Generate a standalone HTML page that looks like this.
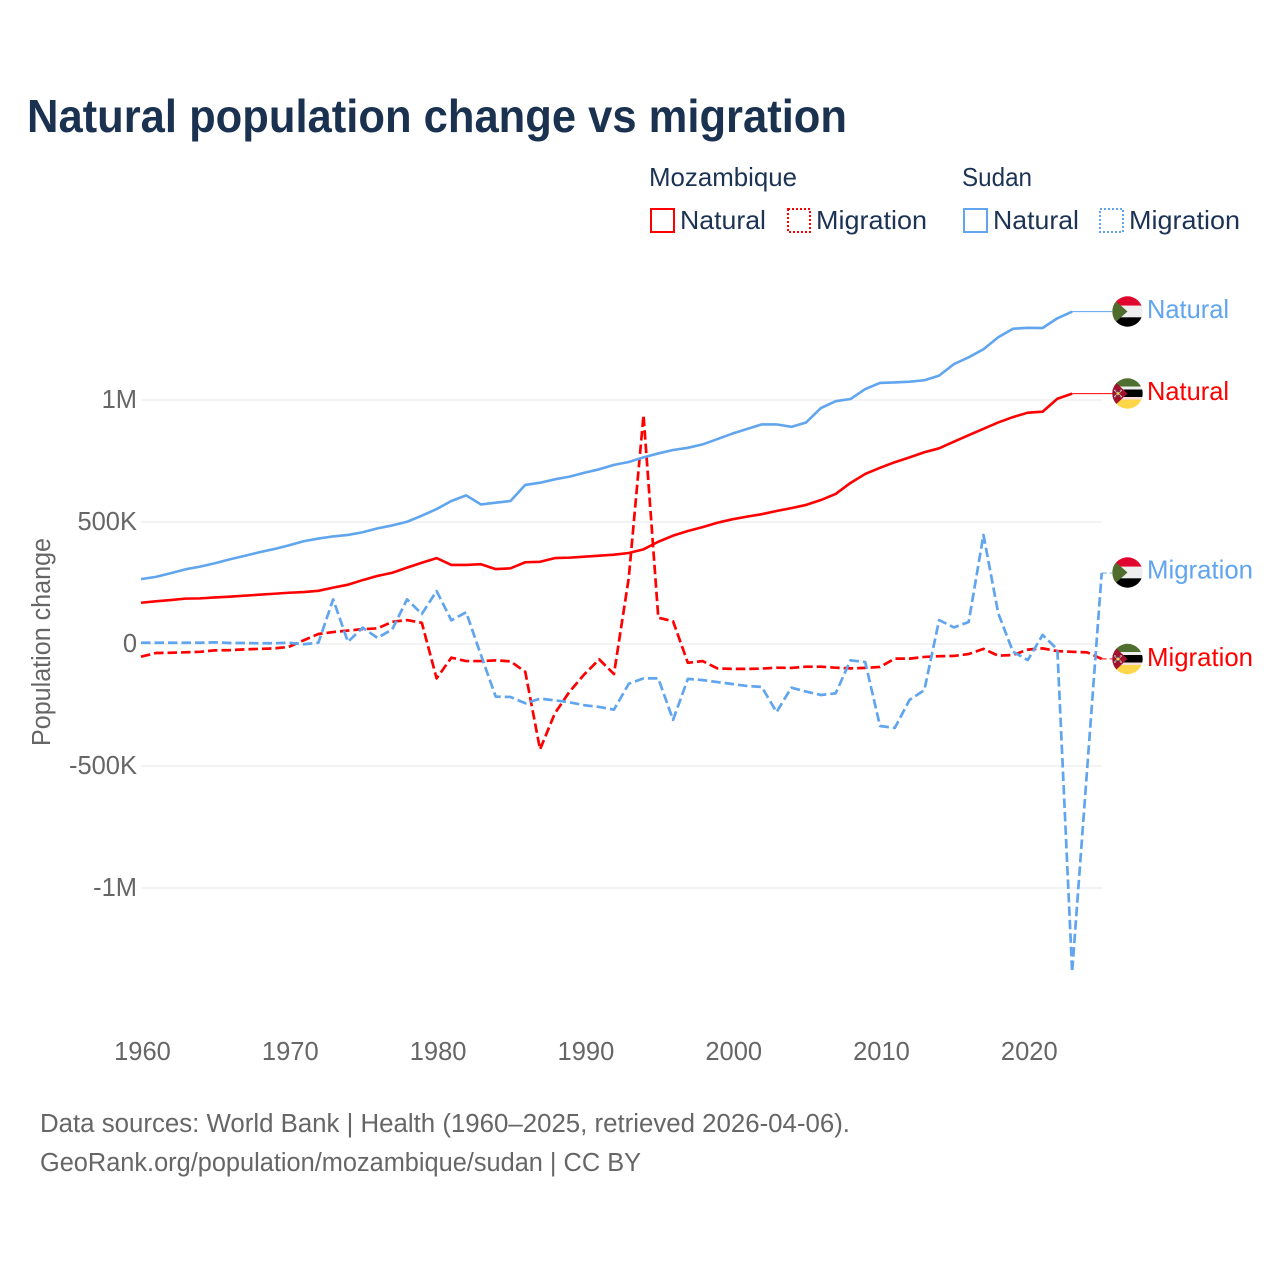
<!DOCTYPE html>
<html lang="en">
<head>
<meta charset="utf-8">
<title>Natural population change vs migration</title>
<style>
html,body{margin:0;padding:0;background:#fff;}
svg{display:block;font-family:"Liberation Sans",sans-serif;}
</style>
</head>
<body>
<svg id="chart" width="1280" height="1280" viewBox="0 0 1280 1280" xmlns="http://www.w3.org/2000/svg">
  <defs>
    <clipPath id="flag-clip"><circle cx="0" cy="0" r="15.2"/></clipPath>
  </defs>
  <rect x="0" y="0" width="1280" height="1280" fill="#ffffff"/>
  <text x="27" y="132" font-size="46" font-weight="700" fill="#1a3250" textLength="820" lengthAdjust="spacingAndGlyphs">Natural population change vs migration</text>

  <g font-size="26" fill="#1d3354">
    <text x="649" y="186" textLength="148" lengthAdjust="spacingAndGlyphs">Mozambique</text>
    <text x="962" y="186" textLength="70" lengthAdjust="spacingAndGlyphs">Sudan</text>
    <rect x="651" y="209" width="23" height="23" fill="none" stroke="#ff0000" stroke-width="2"/>
    <text x="680" y="229" textLength="86" lengthAdjust="spacingAndGlyphs">Natural</text>
    <rect x="788" y="209" width="22" height="23" fill="none" stroke="#ff0000" stroke-width="2" stroke-dasharray="2 2"/>
    <text x="816" y="229" textLength="111" lengthAdjust="spacingAndGlyphs">Migration</text>
    <rect x="964" y="209" width="23" height="23" fill="none" stroke="#60a5ee" stroke-width="2"/>
    <text x="993" y="229" textLength="86" lengthAdjust="spacingAndGlyphs">Natural</text>
    <rect x="1100" y="209" width="23" height="23" fill="none" stroke="#60a5ee" stroke-width="2" stroke-dasharray="2 2"/>
    <text x="1129" y="229" textLength="111" lengthAdjust="spacingAndGlyphs">Migration</text>
  </g>

  <g id="grid"></g>
  <g id="y-ticks" font-size="25.5" fill="#666666" text-anchor="end"></g>
  <g id="x-ticks" font-size="25.5" fill="#666666" text-anchor="middle"></g>
  <text transform="translate(50,642) rotate(-90)" font-size="25.5" fill="#666666" text-anchor="middle" textLength="208" lengthAdjust="spacingAndGlyphs">Population change</text>

  <g id="series"></g>

  <g transform="translate(1127.5,311.5)">
    <g clip-path="url(#flag-clip)">
      <rect x="-16" y="-16" width="32" height="10.2" fill="#e0062d"/><rect x="-16" y="-5.8" width="32" height="11.6" fill="#eeeeee"/><rect x="-16" y="5.8" width="32" height="10.2" fill="#000000"/><path d="M-18,-16 L0,0 L-18,16 Z" fill="#4f6d2d"/>
    </g>
  </g>
  <g transform="translate(1127.5,393.5)">
    <g clip-path="url(#flag-clip)">
      <rect x="-16" y="-16" width="32" height="9" fill="#4f6f30"/><rect x="-16" y="-7" width="32" height="3" fill="#eeeeee"/><rect x="-16" y="-4" width="32" height="7.5" fill="#000000"/><rect x="-16" y="3.5" width="32" height="2.5" fill="#f6dcdc"/><rect x="-16" y="6" width="32" height="10" fill="#fdd64a"/><path d="M-17,-16 L0,0 L-17,16 Z" fill="#a0122e"/><path d="M-13,-3.5 L-6,3.5 M-6,-3.5 L-13,3.5" stroke="#eeeeee" stroke-width="1.4"/><path d="M-12,-3 L-7,3 M-7,-3 L-12,3" stroke="#222222" stroke-width="0.6"/><circle cx="-9.5" cy="0" r="1.4" fill="#f5d24a"/>
    </g>
  </g>
  <g transform="translate(1127.5,572.5)">
    <g clip-path="url(#flag-clip)">
      <rect x="-16" y="-16" width="32" height="10.2" fill="#e0062d"/><rect x="-16" y="-5.8" width="32" height="11.6" fill="#eeeeee"/><rect x="-16" y="5.8" width="32" height="10.2" fill="#000000"/><path d="M-18,-16 L0,0 L-18,16 Z" fill="#4f6d2d"/>
    </g>
  </g>
  <g transform="translate(1127.5,659)">
    <g clip-path="url(#flag-clip)">
      <rect x="-16" y="-16" width="32" height="9" fill="#4f6f30"/><rect x="-16" y="-7" width="32" height="3" fill="#eeeeee"/><rect x="-16" y="-4" width="32" height="7.5" fill="#000000"/><rect x="-16" y="3.5" width="32" height="2.5" fill="#f6dcdc"/><rect x="-16" y="6" width="32" height="10" fill="#fdd64a"/><path d="M-17,-16 L0,0 L-17,16 Z" fill="#a0122e"/><path d="M-13,-3.5 L-6,3.5 M-6,-3.5 L-13,3.5" stroke="#eeeeee" stroke-width="1.4"/><path d="M-12,-3 L-7,3 M-7,-3 L-12,3" stroke="#222222" stroke-width="0.6"/><circle cx="-9.5" cy="0" r="1.4" fill="#f5d24a"/>
    </g>
  </g>

  <g font-size="26">
    <text x="1147" y="318" fill="#60a5ee" textLength="82" lengthAdjust="spacingAndGlyphs">Natural</text>
    <text x="1147" y="400" fill="#ff0000" textLength="82" lengthAdjust="spacingAndGlyphs">Natural</text>
    <text x="1147" y="578.5" fill="#60a5ee" textLength="106" lengthAdjust="spacingAndGlyphs">Migration</text>
    <text x="1147" y="666" fill="#ff0000" textLength="106" lengthAdjust="spacingAndGlyphs">Migration</text>
  </g>

  <g font-size="25.5" fill="#666666">
    <text x="40" y="1132" textLength="810" lengthAdjust="spacingAndGlyphs">Data sources: World Bank | Health (1960–2025, retrieved 2026-04-06).</text>
    <text x="40" y="1171" textLength="601" lengthAdjust="spacingAndGlyphs">GeoRank.org/population/mozambique/sudan | CC BY</text>
  </g>
</svg>
<script>
// Chart data: values are in thousands of people per year.
const startYear = 1960;
const xTickYears = [1960, 1970, 1980, 1990, 2000, 2010, 2020];
const yTickValues = [1000, 500, 0, -500, -1000];
const yTickLabels = ["1M", "500K", "0", "-500K", "-1M"];
const sudanNatural = [266,275,290,306,317,331,347,361,376,389,404,421,432,441,447,458,474,486,501,526,553,586,609,572,579,586,652,661,675,686,702,716,734,746,765,781,795,804,818,840,862,881,900,900,890,908,967,995,1004,1045,1070,1072,1075,1081,1100,1147,1175,1208,1257,1292,1296,1295,1335,1362];
const mozambiqueNatural = [169,175,180,186,187,191,194,198,202,206,210,213,218,231,243,262,279,292,313,333,352,324,324,327,307,310,335,337,352,354,358,362,366,373,388,419,444,463,479,497,511,522,532,545,557,570,590,615,660,697,722,745,765,786,802,829,856,882,908,930,948,952,1005,1026];
const sudanMigration = [5,5,5,5,5,7,4,4,3,3,5,-1,5,183,9,67,25,60,183,123,217,97,130,-45,-216,-217,-243,-224,-231,-239,-251,-258,-269,-163,-141,-141,-311,-143,-148,-156,-164,-172,-176,-279,-179,-195,-209,-202,-67,-74,-336,-344,-229,-189,98,68,90,447,126,-32,-66,37,-22,-1344,-525,291];
const mozambiqueMigration = [-52,-37,-36,-34,-32,-26,-25,-22,-20,-18,-12,15,41,49,55,61,64,91,98,87,-141,-56,-70,-70,-67,-71,-114,-432,-284,-195,-124,-63,-123,270,938,108,93,-77,-70,-100,-102,-102,-101,-97,-98,-93,-93,-97,-100,-98,-94,-60,-60,-53,-50,-49,-41,-20,-48,-45,-23,-18,-29,-32,-34,-61];

const NS = "http://www.w3.org/2000/svg";
const BLUE = "#60a5ee";
const RED = "#ff0000";
const flagEdgeX = 1112;
const plotLeft = 141;
const plotRight = 1102;

function xScale(year) {
  return 141 + (year - 1960) * 14.78;
}
function yScale(thousands) {
  return 644 - thousands * 0.244;
}
function pathFrom(values) {
  return values.map(function (v, i) {
    return (i === 0 ? "M" : "L") + xScale(startYear + i).toFixed(2) + "," + yScale(v).toFixed(2);
  }).join(" ");
}

const gridGroup = document.getElementById("grid");
const yTickGroup = document.getElementById("y-ticks");
yTickValues.forEach(function (value, i) {
  const line = document.createElementNS(NS, "line");
  
  
  line.setAttribute("x1", plotLeft);
  line.setAttribute("x2", plotRight);
  line.setAttribute("y1", yScale(value));
  line.setAttribute("y2", yScale(value));
  line.setAttribute("stroke", "#ececec");
  line.setAttribute("stroke-width", "1.2");
  gridGroup.appendChild(line);
  const label = document.createElementNS(NS, "text");
  
  
  label.setAttribute("x", 137);
  label.setAttribute("y", yScale(value) + 8);
  label.textContent = yTickLabels[i];
  yTickGroup.appendChild(label);
});

const xTickGroup = document.getElementById("x-ticks");
xTickYears.forEach(function (year) {
  const label = document.createElementNS(NS, "text");
  
  
  label.setAttribute("x", xScale(year) + 1.5);
  label.setAttribute("y", 1060);
  label.textContent = String(year);
  xTickGroup.appendChild(label);
});

const seriesGroup = document.getElementById("series");

function drawConnector(values, color, dashed, connectorName) {
  const lastIndex = values.length - 1;
  const connector = document.createElementNS(NS, "line");
  
  
  connector.setAttribute("x1", xScale(startYear + lastIndex));
  connector.setAttribute("y1", yScale(values[lastIndex]));
  connector.setAttribute("x2", flagEdgeX);
  connector.setAttribute("y2", yScale(values[lastIndex]));
  connector.setAttribute("stroke", color);
  connector.setAttribute("stroke-width", "1");
  if (dashed) {
    connector.setAttribute("stroke-dasharray", "5 3");
  }
  seriesGroup.appendChild(connector);
}

function drawLine(values, color, dashed, lineName) {
  const path = document.createElementNS(NS, "path");
  
  
  path.setAttribute("d", pathFrom(values));
  path.setAttribute("fill", "none");
  path.setAttribute("stroke", color);
  path.setAttribute("stroke-width", dashed ? "2.7" : "2.6");
  path.setAttribute("stroke-linejoin", "round");
  if (dashed) {
    path.setAttribute("stroke-dasharray", "9.5 4");
  }
  seriesGroup.appendChild(path);
}

drawConnector(sudanNatural, BLUE, false, 'connector-sudan-natural');
drawConnector(mozambiqueNatural, RED, false, 'connector-mozambique-natural');
drawConnector(sudanMigration, BLUE, true, 'connector-sudan-migration');
drawConnector(mozambiqueMigration, RED, true, 'connector-mozambique-migration');
drawLine(mozambiqueNatural, RED, false, 'line-mozambique-natural');
drawLine(mozambiqueMigration, RED, true, 'line-mozambique-migration');
drawLine(sudanNatural, BLUE, false, 'line-sudan-natural');
drawLine(sudanMigration, BLUE, true, 'line-sudan-migration');
</script>
</body>
</html>
